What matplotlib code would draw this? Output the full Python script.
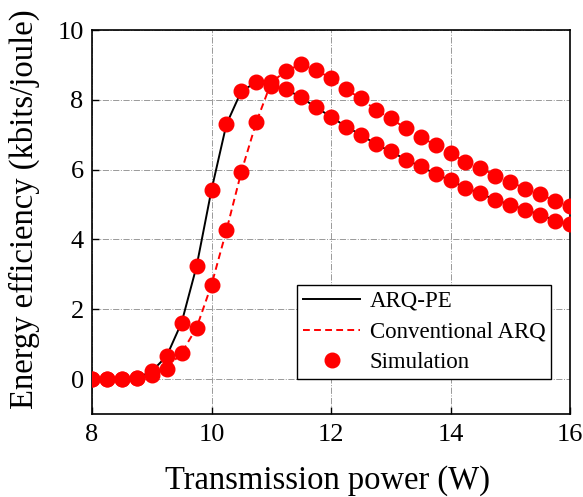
import matplotlib
matplotlib.use("Agg")
import matplotlib.pyplot as plt
import numpy as np

power = [8.0, 8.25, 8.5, 8.75, 9.0, 9.25, 9.5, 9.75, 10.0, 10.25, 10.5, 10.75,
         11.0, 11.25, 11.5, 11.75, 12.0, 12.25, 12.5, 12.75, 13.0, 13.25, 13.5,
         13.75, 14.0, 14.25, 14.5, 14.75, 15.0, 15.25, 15.5, 15.75, 16.0]
arq_pe = [0.0, 0.0, 0.0, 0.03, 0.22, 0.66, 1.62, 3.23, 5.42, 7.3, 8.25, 8.5,
          8.4, 8.3, 8.07, 7.78, 7.52, 7.23, 7.0, 6.73, 6.52, 6.29, 6.09,
          5.88, 5.69, 5.48, 5.32, 5.13, 5.0, 4.85, 4.71, 4.54, 4.43]
conv_arq = [0.0, 0.0, 0.0, 0.02, 0.12, 0.3, 0.75, 1.47, 2.7, 4.26, 5.94, 7.36,
            8.5, 8.83, 9.02, 8.85, 8.62, 8.3, 8.04, 7.71, 7.47, 7.18, 6.94,
            6.7, 6.47, 6.23, 6.05, 5.83, 5.66, 5.45, 5.29, 5.11, 4.97]

plt.rcParams['font.family'] = ['Liberation Serif', 'DejaVu Serif']
plt.rcParams['mathtext.fontset'] = 'stix'

W, H = 583, 497
fig = plt.figure(figsize=(W / 100, H / 100), dpi=100)
L, R, T, B = 92, 570, 30, 414
ax = fig.add_axes([L / W, 1 - B / H, (R - L) / W, (B - T) / H])

ax.plot(power, arq_pe, color='black', lw=1.4, label='ARQ-PE', zorder=3)
ax.plot(power, conv_arq, color='red', lw=1.4, ls=(0, (3.5, 2.2)), label='Conventional ARQ', zorder=3)
ax.plot(power, arq_pe, 'o', color='red', ms=10.5, mec='red', zorder=4, label='Simulation')
ax.plot(power, conv_arq, 'o', color='red', ms=10.5, mec='red', zorder=4)

ax.set_xlim(8, 16)
ax.set_ylim(-1, 10)
ax.set_xticks([8, 10, 12, 14, 16])
ax.set_yticks([0, 2, 4, 6, 8, 10])
ax.grid(True, color='#999999', ls='-.', lw=0.7)
ax.tick_params(direction='in', length=5, width=1.0, labelsize=19)
ax.tick_params(axis='x', pad=7)
ax.tick_params(axis='y', pad=6)
for s in ax.spines.values():
    s.set_linewidth(1.2)

ax.set_xlabel('Transmission power (W)', fontsize=23.5, va='baseline')
ax.xaxis.set_label_coords((327.5 - L) / (R - L), (B - 489) / (B - T))
ax.set_ylabel('Energy efficiency (kbits/joule)', fontsize=23.5, va='baseline')
ax.yaxis.set_label_coords((33 - L) / (R - L), (B - 209.5) / (B - T))

leg = ax.legend(loc='lower right', bbox_to_anchor=((551 - L) / (R - L), (B - 379) / (B - T)),
                borderaxespad=0, fontsize=16.5, frameon=True, fancybox=False,
                edgecolor='black', framealpha=1, handlelength=2.5, handletextpad=0.4,
                labelspacing=0.42, borderpad=0.25)
leg.get_frame().set_linewidth(1.0)

fig.savefig('out.png', dpi=100)
